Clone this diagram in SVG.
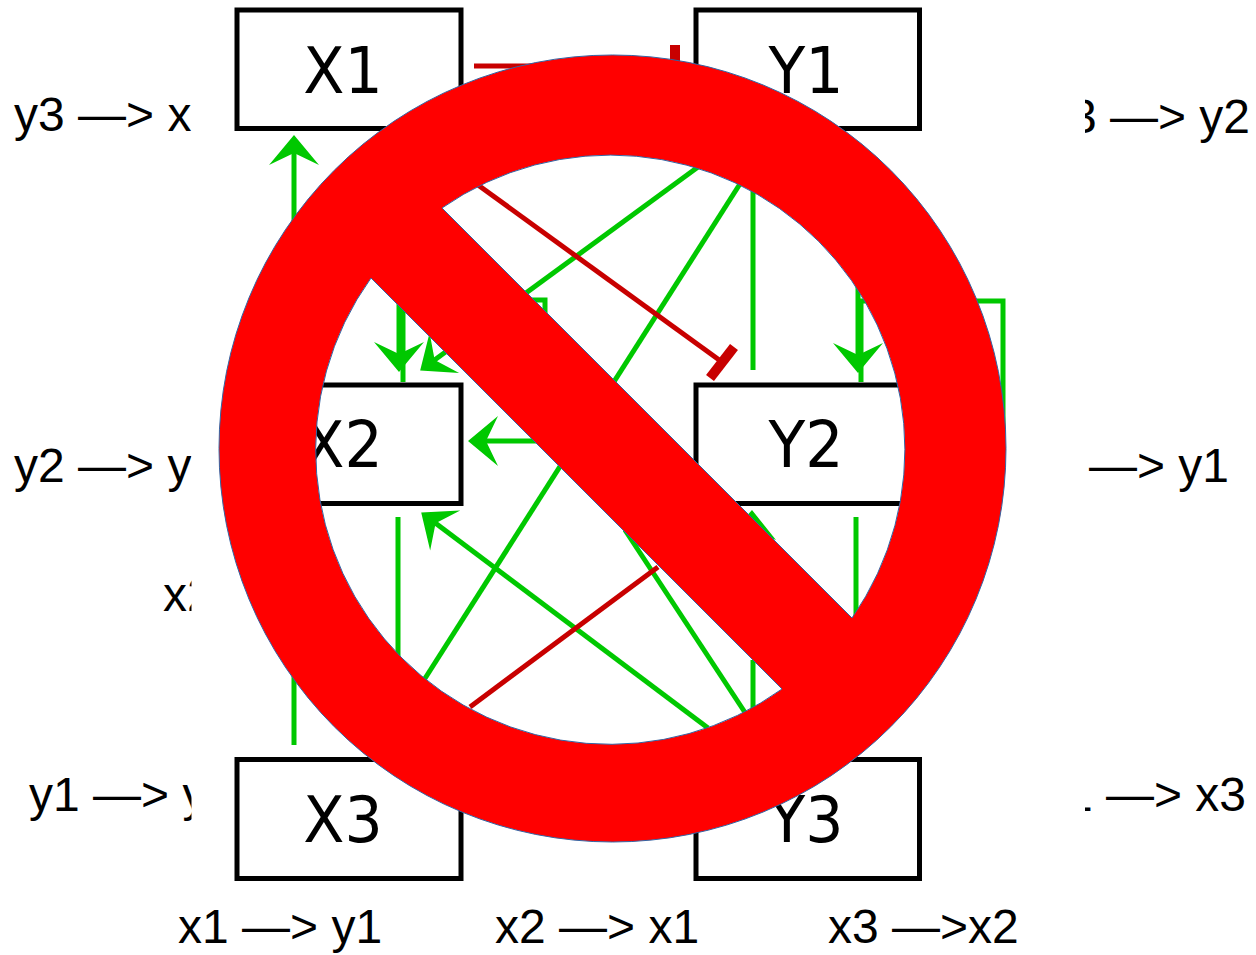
<svg xmlns="http://www.w3.org/2000/svg" width="1256" height="955" viewBox="0 0 1256 955">
<style>
.box{fill:#fff;stroke:#000;stroke-width:5}
.nl{font-family:"DejaVu Sans",sans-serif;font-size:64px;fill:#000;text-anchor:middle}
.lb{font-family:"Liberation Sans",Arial,sans-serif;font-size:48px;fill:#000}
.g{fill:none;stroke:#00c800;stroke-width:5}
.r{fill:none;stroke:#c80000;stroke-width:5}
.t{fill:none;stroke:#c80000;stroke-width:10}
.mask{fill:#fff}
</style>
<defs>
<marker id="ah" markerUnits="userSpaceOnUse" markerWidth="40" markerHeight="60" refX="30" refY="30" viewBox="0 0 40 60" orient="auto"><path d="M36 30L6 5L18 30L6 55Z" fill="#00c800"/></marker>
</defs>
<rect width="1256" height="955" fill="#fff"/>
<g id="labels" class="lb">
<text x="14" y="131">y3 —&gt; x</text>
<text x="1250" y="133" text-anchor="end">3 —&gt; y2</text>
<text x="14" y="482">y2 —&gt; y</text>
<text x="1229" y="482" text-anchor="end">—&gt; y1</text>
<text x="163" y="611">x2</text>
<text x="29" y="811">y1 —&gt; y</text>
<text x="1246" y="811" text-anchor="end">1 —&gt; x3</text>
<text x="178" y="943">x1 —&gt; y1</text>
<text x="495" y="943">x2 —&gt; x1</text>
<text x="828" y="943">x3 —&gt;x2</text>
</g>
<g id="label-masks">
<rect class="mask" x="191.500" y="85" width="43" height="60"/>
<rect class="mask" x="191.500" y="435" width="43" height="65"/>
<rect class="mask" x="191.500" y="565" width="43" height="60"/>
<rect class="mask" x="191.500" y="765" width="43" height="65"/>
<rect class="mask" x="1006" y="85" width="79" height="65"/>
<rect class="mask" x="1006" y="765" width="79" height="65"/>
</g>
<g id="connectors">
<path class="g" d="M294 745V141" marker-end="url(#ah)"/>
<path class="g" d="M399 280V366" marker-end="url(#ah)"/>
<path class="g" d="M403 300V382"/>
<path class="g" d="M698 167L425 367" marker-end="url(#ah)"/>
<path class="g" d="M520 300H545V340"/>
<path class="g" d="M560 441H474" marker-end="url(#ah)"/>
<path class="g" d="M708 728L426 516" marker-end="url(#ah)"/>
<path class="g" d="M398 517V660"/>
<path class="g" d="M424 680L745 176"/>
<path class="g" d="M753 185V370"/>
<path class="g" d="M858 280V367" marker-end="url(#ah)"/>
<path class="g" d="M861 301V382"/>
<path class="g" d="M860 301H1003V430"/>
<path class="g" d="M856 517V625"/>
<path class="g" d="M753 660V710"/>
<path class="g" d="M625 530L746 714"/>
<path fill="#00c800" d="M752 510L776 540L752 530L725 540Z"/>
<path class="r" d="M478 185L722 362"/>
<path class="t" d="M734 347L710 378"/>
<path class="r" d="M470 707L658 567"/>
<path class="r" stroke-width="6" d="M474 66H674"/>
<path class="t" d="M675 45V90"/>
</g>
<g id="X1"><rect class="box" x="237" y="10" width="224" height="118.500"/><text class="nl" transform="translate(343 93) scale(.94 1)">X1</text></g>
<g id="Y1"><rect class="box" x="696" y="10" width="223.500" height="118.500"/><text class="nl" transform="translate(806 93) scale(.94 1)">Y1</text></g>
<g id="X2"><rect class="box" x="237" y="385" width="224" height="118.500"/><text class="nl" transform="translate(343 467) scale(.94 1)">X2</text></g>
<g id="Y2"><rect class="box" x="696" y="385" width="223.500" height="118.500"/><text class="nl" transform="translate(806 467) scale(.94 1)">Y2</text></g>
<g id="X3"><rect class="box" x="237" y="759.500" width="224" height="119"/><text class="nl" transform="translate(343 842) scale(.94 1)">X3</text></g>
<g id="Y3"><rect class="box" x="696" y="759.500" width="223.500" height="119"/><text class="nl" transform="translate(806 842) scale(.94 1)">Y3</text></g>
<path id="prohibition" fill="#f00" fill-rule="evenodd" stroke="#3465a4" stroke-width="1" d="M219 448.500A393.500 393.500 0 1 1 1006 448.500A393.500 393.500 0 1 1 219 448.500ZM442 208A294.500 294.500 0 0 1 852 618ZM782 689A294.500 294.500 0 0 1 371 278Z"/>
</svg>
